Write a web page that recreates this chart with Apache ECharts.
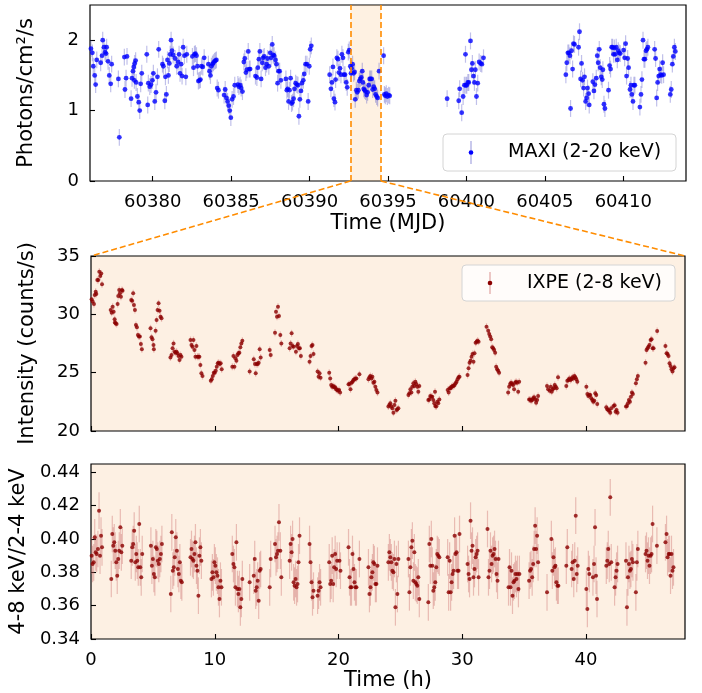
<!DOCTYPE html>
<html>
<head>
<meta charset="utf-8" />
<title>MAXI / IXPE light curves</title>
</head>
<body style="margin:0">
<script src="https://cdn.jsdelivr.net/npm/echarts@6.0.0/dist/echarts.min.js"></script>
<div id="main" style="width:702px;height:693px;"></div>
<script type="text/javascript">
// MAXI 2-20 keV daily-ish points [MJD, photons/cm2/s]
var maxi = [
  [60376.06,1.88],[60376.15,1.82],[60376.21,1.63],[60376.30,1.50],[60376.36,1.37],[60376.43,1.72],
  [60376.68,1.68],[60376.77,1.78],[60376.81,2.00],[60376.89,1.90],[60376.96,1.83],[60377.02,1.81],[60377.06,1.90],[60377.15,1.70],[60377.23,1.50],[60377.32,1.38],[60377.38,1.66],
  [60377.81,1.45],[60377.87,0.62],[60378.19,1.76],[60378.23,1.30],[60378.30,1.46],[60378.36,1.77],
  [60378.62,1.17],[60378.68,1.46],[60378.74,1.56],[60378.79,1.62],[60378.83,1.43],[60378.85,1.67],[60378.91,1.71],[60378.94,1.40],[60379.02,1.20],[60379.11,1.12],[60379.17,1.00],[60379.23,1.38],[60379.30,1.53],
  [60379.62,1.80],[60379.68,1.08],[60379.72,1.39],[60379.81,1.34],[60379.89,1.37],[60379.98,1.43],[60380.04,1.53],[60380.13,1.13],[60380.21,1.26],[60380.30,1.48],[60380.38,1.87],
  [60380.62,1.66],[60380.68,1.63],[60380.77,1.14],[60380.81,1.48],[60380.87,1.23],[60380.94,1.72],[60381.00,1.50],[60381.06,1.67],[60381.11,1.80],[60381.17,2.00],[60381.23,1.85],[60381.30,1.79],[60381.43,1.74],
  [60381.53,1.63],[60381.62,1.69],[60381.68,1.80],[60381.74,1.53],[60381.81,1.66],[60381.87,1.49],[60381.94,1.90],[60382.02,1.78],[60382.11,1.48],[60382.17,1.80],
  [60382.53,1.77],[60382.60,1.61],[60382.66,1.80],[60382.72,1.81],[60382.79,1.78],[60382.85,1.63],[60382.91,1.42],[60382.98,1.43],[60383.04,1.44],[60383.11,1.63],[60383.19,1.62],[60383.28,1.75],
  [60383.55,1.66],[60383.62,1.56],[60383.68,1.50],[60383.74,1.63],[60383.81,1.66],[60383.87,1.68],[60383.94,1.70],[60384.00,1.71],[60384.06,1.72],[60384.11,1.32],[60384.19,1.29],
  [60384.55,1.22],[60384.62,1.30],[60384.70,1.18],[60384.77,1.13],[60384.85,1.07],[60384.91,1.00],[60384.98,0.90],[60385.06,1.16],[60385.15,1.20],[60385.23,1.36],
  [60385.43,1.37],[60385.49,1.34],[60385.57,1.36],[60385.64,1.32],[60385.72,1.27],[60385.81,1.69],[60385.87,1.74],[60385.94,1.54],[60386.00,1.58],[60386.09,1.84],[60386.15,1.59],[60386.21,1.59],
  [60386.55,1.49],[60386.64,1.47],[60386.70,1.61],[60386.77,1.73],[60386.83,1.84],[60386.91,1.45],[60386.98,1.68],[60387.04,1.75],[60387.11,1.77],[60387.19,1.61],[60387.26,1.66],[60387.32,1.74],
  [60387.40,1.63],[60387.49,1.82],[60387.55,1.75],[60387.62,1.94],[60387.68,1.79],[60387.74,1.78],[60387.83,1.72],[60387.89,1.66],[60387.96,1.39],[60388.02,1.56],[60388.09,1.56],[60388.17,1.43],
  [60388.49,1.45],[60388.55,1.29],[60388.60,1.31],[60388.66,1.13],[60388.72,1.29],[60388.79,1.46],[60388.85,1.10],[60388.91,1.12],[60388.98,1.17],[60389.04,1.31],[60389.11,1.39],[60389.19,1.37],
  [60389.26,1.36],[60389.32,0.92],[60389.38,1.16],[60389.45,1.28],[60389.51,1.39],[60389.60,1.43],[60389.66,1.52],[60389.74,1.66],[60389.83,1.66],[60389.91,1.13],[60389.98,1.63],[60390.04,1.87],[60390.11,1.92],
  [60391.28,1.51],[60391.36,1.31],[60391.43,1.40],[60391.49,1.62],[60391.55,1.17],[60391.62,1.12],[60391.66,1.44],[60391.74,1.75],[60391.81,1.73],[60391.87,1.54],[60391.94,1.60],[60392.00,1.51],
  [60392.06,1.80],[60392.13,1.75],[60392.19,1.51],[60392.26,1.51],[60392.34,1.40],[60392.40,1.33],[60392.47,1.83],[60392.53,1.86],[60392.60,1.63],[60392.64,1.53],[60392.68,1.60],[60392.74,1.66],
  [60392.81,1.53],[60392.87,1.55],[60392.91,1.16],[60392.98,1.29],[60393.04,1.26],[60393.11,1.29],[60393.17,1.42],[60393.23,1.45],[60393.30,1.47],[60393.36,1.56],[60393.40,1.40],[60393.45,1.31],
  [60393.51,1.29],[60393.57,1.27],[60393.64,1.22],[60393.70,1.26],[60393.77,1.36],[60393.83,1.45],[60393.89,1.45],[60393.96,1.45],[60394.02,1.30],[60394.09,1.34],[60394.15,1.31],[60394.21,1.23],
  [60394.28,1.20],[60394.34,1.18],[60394.43,1.56],[60394.72,1.78],[60394.77,1.23],[60394.83,1.21],[60394.89,1.24],[60394.96,1.20],[60395.04,1.22],[60395.11,1.21],
  [60398.77,1.17],[60399.51,1.14],[60399.57,1.31],[60399.70,0.97],[60399.79,1.20],[60399.87,1.36],[60399.94,1.80],[60399.96,1.36],[60400.02,1.36],[60400.09,1.40],[60400.15,1.40],[60400.26,1.99],
  [60400.32,1.58],[60400.38,1.67],[60400.45,1.49],[60400.51,1.40],[60400.57,1.58],[60400.64,1.20],[60400.72,1.39],[60400.81,1.69],[60400.91,1.67],[60400.98,1.66],[60401.09,1.75],
  [60406.34,1.51],[60406.40,1.68],[60406.47,1.82],[60406.53,1.82],[60406.60,1.78],[60406.64,1.03],[60406.70,1.85],[60406.77,1.59],[60406.83,1.95],[60406.89,1.94],
  [60407.15,1.90],[60407.21,2.12],[60407.28,1.45],[60407.34,1.67],[60407.40,1.43],[60407.47,1.32],[60407.53,1.48],[60407.60,1.13],[60407.66,1.18],[60407.72,1.32],[60407.79,1.24],[60407.83,1.08],
  [60408.06,1.41],[60408.13,1.28],[60408.19,1.37],[60408.28,1.46],[60408.34,1.78],[60408.40,1.68],[60408.47,1.87],[60408.53,1.61],[60408.60,1.48],[60408.66,1.44],[60408.70,1.58],[60408.77,1.09],[60408.83,1.03],
  [60409.06,1.29],[60409.13,1.64],[60409.19,1.59],[60409.26,1.90],[60409.32,1.90],[60409.38,1.80],[60409.43,1.89],[60409.49,1.80],[60409.55,1.90],[60409.62,1.72],[60409.68,1.85],[60409.74,1.82],[60409.81,1.81],
  [60410.02,1.86],[60410.09,1.75],[60410.15,1.95],[60410.21,1.49],[60410.28,1.74],[60410.34,1.61],[60410.43,1.30],[60410.49,1.36],[60410.55,1.23],[60410.62,1.13],[60410.68,1.36],[60410.74,1.36],
  [60411.06,1.05],[60411.13,1.23],[60411.19,1.44],[60411.26,2.00],[60411.32,1.73],[60411.38,1.73],[60411.45,1.85],[60411.51,1.87],[60411.57,1.90],
  [60412.00,1.87],[60412.06,1.74],[60412.13,1.18],[60412.19,1.40],[60412.26,1.49],[60412.32,1.59],[60412.38,1.51],[60412.45,1.50],[60412.51,1.68],[60412.57,1.51],
  [60413.00,1.23],[60413.06,1.30],[60413.13,1.66],[60413.19,1.77],[60413.26,1.90],[60413.32,1.84]
];

// IXPE 2-8 keV [hours since start, counts/s]
var ixpe = [
  [0.05,31.29],[0.13,31.09],[0.24,30.89],[0.30,31.66],[0.38,31.94],[0.43,31.74],[0.51,32.94],[0.59,32.94],[0.67,33.66],[0.75,33.29],[0.83,33.51],[0.89,32.57],
  [1.59,30.37],[1.67,30.14],[1.75,30.66],[1.83,30.23],[1.91,29.57],[1.93,29.29],[1.99,29.23],[2.07,29.17],[2.15,30.89],[2.20,31.57],[2.28,32.09],[2.34,31.80],[2.42,31.51],[2.50,32.09],[2.55,32.03],
  [3.25,31.23],[3.33,31.17],[3.41,31.80],[3.47,30.80],[3.55,30.37],[3.63,29.09],[3.71,28.89],[3.79,28.23],[3.87,28.09],[3.95,28.09],[4.03,27.46],[4.11,27.00],
  [4.81,28.80],[4.89,28.03],[4.97,27.86],[5.05,27.37],[5.08,27.00],[5.22,28.60],[5.30,29.51],[5.38,30.37],[5.46,30.94],[5.54,30.31],[5.62,29.80],[5.70,29.66],
  [6.42,26.31],[6.51,26.51],[6.59,27.09],[6.67,27.51],[6.75,26.80],[6.83,26.71],[6.91,26.80],[6.99,26.66],[7.07,26.43],[7.15,26.09],[7.23,26.51],[7.31,26.37],
  [8.04,27.80],[8.12,27.37],[8.20,27.23],[8.28,27.80],[8.36,26.94],[8.44,26.37],[8.52,27.29],[8.60,26.37],[8.68,26.37],[8.76,26.37],[8.84,25.66],[8.92,24.94],[9.01,24.71],
  [9.68,24.31],[9.76,24.43],[9.84,24.71],[9.92,25.00],[10.00,25.00],[10.08,25.17],[10.16,25.51],[10.24,25.80],[10.32,25.86],[10.40,25.74],[10.48,25.80],[10.56,25.29],
  [11.42,25.51],[11.51,26.43],[11.59,25.51],[11.67,26.23],[11.75,26.03],[11.83,26.51],[11.91,26.66],[11.99,26.71],[12.07,27.17],[12.15,27.51],[12.23,27.74],
  [12.82,25.09],[13.15,26.14],[13.25,25.74],[13.31,24.94],[13.39,25.74],[13.47,25.74],[13.55,25.86],[13.63,27.00],[13.71,26.31],
  [14.44,26.94],[14.52,26.51],[14.87,28.43],[14.95,30.23],[15.03,29.80],[15.11,30.66],[15.19,29.86],[15.30,28.23],[15.38,27.51],
  [16.05,27.09],[16.13,27.51],[16.21,28.37],[16.29,27.29],[16.37,27.23],[16.56,26.80],[16.64,27.29],[16.72,27.46],[16.80,27.09],[16.88,27.09],[16.96,26.43],
  [17.66,25.94],[17.74,26.43],[17.82,27.29],[17.90,27.37],[17.98,26.60],
  [18.31,25.09],[18.39,24.66],[18.47,24.94],[18.55,24.57],
  [19.25,25.00],[19.33,24.51],[19.41,23.94],[19.49,23.80],[19.57,23.86],[19.65,23.74],[19.73,23.74],[19.81,23.57],[19.89,23.51],[19.97,23.46],[20.05,23.51],[20.13,23.29],
  [20.81,24.00],[20.89,24.03],[20.97,23.57],[21.05,24.14],[21.13,24.23],[21.21,24.37],[21.29,24.43],[21.37,24.51],[21.45,24.51],[21.69,24.86],
  [22.42,24.43],[22.50,24.60],[22.58,24.71],[22.66,24.51],[22.74,24.66],[22.82,24.14],[22.90,24.23],[22.98,23.80],[23.06,23.51],[23.15,23.29],
  [24.03,22.09],[24.11,22.23],[24.19,22.37],[24.27,22.09],[24.35,21.94],[24.44,21.57],[24.52,22.23],[24.60,22.60],[24.68,21.80],[24.76,21.86],[24.84,21.94],
  [25.65,23.09],[25.73,23.23],[25.81,23.57],[25.89,23.29],[25.97,23.80],[26.05,24.09],[26.13,23.86],[26.21,24.23],[26.29,24.03],[26.37,23.80],[26.45,23.37],[26.53,23.86],
  [27.26,22.66],[27.34,22.71],[27.42,23.00],[27.50,22.94],[27.58,22.94],[27.66,22.66],[27.74,22.37],[27.80,23.37],[27.82,22.14],[27.90,22.09],[27.98,22.51],[28.06,22.37],[28.15,22.71],
  [28.82,23.51],[28.90,23.29],[28.98,23.66],[29.06,23.66],[29.14,23.80],[29.22,23.86],[29.30,23.86],[29.38,23.94],[29.46,24.09],[29.54,24.23],[29.62,24.43],[29.70,24.60],[29.78,24.66],
  [30.43,24.80],[30.51,25.37],[30.59,25.86],[30.67,26.03],[30.75,26.37],[30.83,26.60],[30.91,25.94],[30.99,26.66],[31.08,27.57],[31.16,27.66],[31.24,27.74],[31.32,27.66],
  [31.96,28.94],[32.10,28.60],[32.18,28.31],[32.26,28.09],[32.34,27.86],[32.42,27.17],[32.50,27.09],[32.58,26.94],[32.66,26.71],[32.74,25.51],[32.82,25.29],[32.90,25.17],[32.98,25.00],
  [33.71,23.29],[33.79,23.80],[33.87,24.03],[33.95,24.14],[34.03,24.03],[34.11,23.94],[34.19,23.57],[34.27,24.14],[34.35,24.23],[34.44,24.14],[34.52,23.37],[34.60,24.23],
  [35.40,22.71],[35.48,22.71],[35.56,22.60],[35.65,22.66],[35.73,22.80],[35.81,22.89],[35.89,22.71],[35.97,22.43],[36.05,22.66],[36.13,23.00],
  [36.85,23.86],[36.94,23.57],[37.07,23.46],[37.15,23.80],[37.23,23.37],[37.31,23.57],[37.39,23.66],[37.47,23.94],[37.55,23.80],[37.63,23.66],[37.74,24.60],
  [38.41,23.86],[38.49,24.31],[38.58,24.37],[38.66,24.51],[38.74,24.37],[38.82,24.43],[38.90,24.60],[38.98,24.51],[39.06,24.71],[39.14,24.60],[39.22,24.43],[39.30,24.23],
  [40.03,23.80],[40.11,23.17],[40.19,23.00],[40.27,23.09],[40.35,23.09],[40.43,22.80],[40.51,22.66],[40.59,22.51],[40.67,22.60],[40.75,23.23],[40.83,23.09],[40.91,22.31],
  [41.64,22.03],[41.72,21.86],[41.80,21.80],[41.88,21.74],[41.96,21.57],[42.04,21.94],[42.23,22.14],[42.31,22.20],[42.39,21.66],[42.47,21.80],[42.55,21.57],
  [43.23,22.09],[43.31,22.14],[43.39,22.37],[43.47,22.66],[43.55,22.51],[43.63,22.94],[43.71,23.29],[43.79,23.17],[44.03,24.09],[44.11,24.43],[44.19,24.71],
  [44.81,25.86],[44.89,26.94],[44.97,27.09],[45.05,27.23],[45.13,27.37],[45.22,27.80],[45.30,27.86],[45.38,27.09],[45.46,27.09],[45.75,28.57],
  [46.42,27.29],[46.51,26.66],[46.59,26.60],[46.67,26.43],[46.75,25.80],[46.83,25.57],[46.91,25.29],[46.99,25.09],[47.07,25.37],[47.15,25.46]
];

// hardness ratio 4-8 keV / 2-4 keV [hours, ratio]
var ratio = [
  [0.05,0.390],[0.13,0.385],[0.22,0.386],[0.30,0.401],[0.38,0.392],[0.46,0.391],[0.56,0.394],[0.65,0.417],[0.73,0.390],[0.81,0.402],[0.89,0.395],
  [1.64,0.376],[1.72,0.403],[1.80,0.396],[1.88,0.398],[1.96,0.393],[2.04,0.386],[2.12,0.378],[2.20,0.388],[2.28,0.393],[2.37,0.407],[2.45,0.392],[2.53,0.396],
  [3.25,0.387],[3.33,0.395],[3.41,0.397],[3.49,0.405],[3.58,0.386],[3.66,0.391],[3.74,0.387],[3.82,0.383],[3.90,0.409],[3.98,0.383],[4.06,0.377],[4.14,0.391],
  [4.84,0.396],[4.92,0.384],[5.00,0.388],[5.08,0.379],[5.16,0.377],[5.24,0.395],[5.32,0.394],[5.40,0.387],[5.48,0.385],[5.56,0.388],[5.65,0.391],[5.73,0.397],
  [6.45,0.367],[6.53,0.404],[6.61,0.381],[6.69,0.383],[6.77,0.389],[6.85,0.401],[6.94,0.393],[7.02,0.382],[7.10,0.379],[7.18,0.386],[7.26,0.375],[7.34,0.374],
  [8.04,0.389],[8.12,0.394],[8.20,0.388],[8.28,0.387],[8.36,0.391],[8.44,0.398],[8.52,0.384],[8.60,0.381],[8.68,0.366],[8.76,0.390],[8.84,0.395],[8.92,0.387],
  [9.73,0.376],[9.81,0.380],[9.89,0.377],[9.97,0.386],[10.05,0.384],[10.13,0.380],[10.22,0.378],[10.30,0.371],[10.38,0.364],[10.46,0.375],[10.54,0.371],
  [11.42,0.391],[11.51,0.385],[11.59,0.383],[11.67,0.371],[11.75,0.398],[11.83,0.370],[11.91,0.367],[11.99,0.370],[12.07,0.359],[12.15,0.364],[12.23,0.376],
  [12.82,0.374],[13.15,0.378],[13.23,0.388],[13.31,0.369],[13.39,0.371],[13.47,0.375],[13.55,0.363],[13.63,0.381],[13.71,0.382],
  [14.44,0.371],[14.52,0.388],[14.87,0.397],[14.95,0.389],[15.03,0.391],[15.11,0.393],[15.19,0.410],[15.30,0.393],[15.38,0.377],
  [16.05,0.387],[16.13,0.397],[16.21,0.392],[16.29,0.400],[16.37,0.374],[16.45,0.372],[16.53,0.376],[16.61,0.371],[16.69,0.373],[16.77,0.386],[16.85,0.402],
  [17.66,0.397],[17.74,0.386],[17.82,0.374],[17.90,0.365],[17.98,0.369],
  [18.31,0.366],[18.39,0.369],[18.47,0.374],[18.55,0.371],
  [19.25,0.386],[19.33,0.373],[19.41,0.375],[19.49,0.390],[19.57,0.373],[19.65,0.383],[19.73,0.391],[19.81,0.382],[19.89,0.387],[20.08,0.387],[20.16,0.381],
  [20.81,0.395],[20.89,0.377],[20.97,0.371],[21.05,0.371],[21.13,0.391],[21.21,0.382],[21.29,0.374],[21.37,0.371],[21.45,0.371],[21.69,0.388],
  [22.42,0.383],[22.50,0.367],[22.58,0.371],[22.66,0.377],[22.74,0.380],[22.82,0.386],[22.90,0.385],[22.98,0.373],[23.06,0.373],[23.15,0.384],
  [24.03,0.386],[24.11,0.392],[24.19,0.389],[24.27,0.386],[24.35,0.381],[24.44,0.380],[24.52,0.388],[24.60,0.359],[24.68,0.385],[24.76,0.367],[24.84,0.388],
  [25.65,0.388],[25.73,0.368],[25.81,0.383],[25.89,0.395],[25.97,0.399],[26.05,0.375],[26.13,0.392],[26.21,0.374],[26.29,0.373],[26.37,0.372],[26.45,0.377],[26.53,0.364],
  [27.26,0.362],[27.34,0.397],[27.42,0.384],[27.50,0.400],[27.58,0.384],[27.66,0.369],[27.74,0.371],[27.82,0.374],[27.90,0.383],[27.98,0.391],[28.06,0.390],[28.15,0.389],
  [28.82,0.389],[28.90,0.368],[28.98,0.387],[29.06,0.368],[29.14,0.374],[29.22,0.379],[29.30,0.381],[29.38,0.402],[29.46,0.391],[29.54,0.392],[29.62,0.381],[29.70,0.381],[29.78,0.403],
  [30.43,0.385],[30.51,0.379],[30.59,0.376],[30.67,0.411],[30.75,0.393],[30.83,0.396],[30.91,0.377],[30.99,0.382],[31.08,0.389],[31.16,0.391],[31.24,0.393],[31.32,0.377],
  [32.04,0.406],[32.12,0.377],[32.20,0.381],[32.28,0.393],[32.37,0.385],[32.45,0.390],[32.53,0.391],[32.61,0.394],[32.69,0.388],[32.77,0.379],[32.85,0.375],[32.93,0.388],
  [33.74,0.371],[33.82,0.383],[33.90,0.371],[33.98,0.381],[34.06,0.366],[34.14,0.374],[34.22,0.375],[34.30,0.379],[34.38,0.376],[34.46,0.379],[34.54,0.370],[34.62,0.379],
  [35.40,0.375],[35.48,0.381],[35.56,0.382],[35.65,0.377],[35.73,0.385],[35.81,0.394],[35.89,0.408],[35.97,0.394],[36.05,0.402],[36.13,0.386],
  [36.85,0.368],[37.20,0.400],[37.28,0.381],[37.37,0.389],[37.45,0.383],[37.53,0.384],[37.61,0.374],[37.69,0.372],[37.77,0.372],
  [38.41,0.384],[38.49,0.395],[38.84,0.382],[38.92,0.386],[39.01,0.376],[39.09,0.387],[39.17,0.414],[39.25,0.379],[39.33,0.384],
  [40.03,0.370],[40.11,0.358],[40.19,0.382],[40.27,0.379],[40.56,0.377],[40.65,0.385],[40.73,0.407],[40.81,0.378],[40.89,0.364],
  [41.64,0.384],[41.72,0.387],[41.80,0.394],[41.88,0.385],[41.96,0.425],[42.04,0.386],[42.31,0.371],[42.39,0.377],[42.47,0.381],[42.55,0.385],
  [43.23,0.387],[43.31,0.359],[43.39,0.377],[43.47,0.385],[43.55,0.381],[43.63,0.382],[43.71,0.388],[43.79,0.386],[44.03,0.368],[44.11,0.386],[44.19,0.394],
  [44.81,0.391],[44.89,0.393],[44.97,0.387],[45.05,0.390],[45.13,0.384],[45.22,0.390],[45.30,0.391],[45.38,0.409],[45.73,0.396],
  [46.42,0.398],[46.51,0.403],[46.59,0.389],[46.67,0.391],[46.75,0.391],[46.83,0.378],[46.91,0.391],[46.99,0.381],[47.07,0.383]
];

// typical 1-sigma error bars
var maxiErr = 0.12;
var ixpeErr = 0.3;
var ratioErr = 0.011;

// IXPE window marked on the MAXI curve (MJD)
var bandStart = 60392.6;
var bandEnd = 60394.55;

var mjdTicks = [60380, 60385, 60390, 60395, 60400, 60405, 60410];
var rateTicks = [0, 1, 2];
var intensityTicks = [20, 25, 30, 35];
var hourTicks = [0, 10, 20, 30, 40];
var ratioTicks = [0.34, 0.36, 0.38, 0.40, 0.42, 0.44];

var FONT = 'DejaVu Sans';
var ORANGE = '#ff8c00';
var PANEL_BG = '#fdf0e3';

var chart = echarts.init(document.getElementById('main'));

function withErr(pts, e) {
    return pts.map(function (p) { return [p[0], p[1], e]; });
}

// vertical error bar drawn through the axes
function errBar(color, width) {
    return function (params, api) {
        var x = api.value(0), y = api.value(1), e = api.value(2);
        var lo = api.coord([x, y - e]);
        var hi = api.coord([x, y + e]);
        return {
            type: 'line',
            shape: { x1: lo[0], y1: lo[1], x2: hi[0], y2: hi[1] },
            style: { stroke: color, lineWidth: width }
        };
    };
}

function plain(v) { return String(v); }

function xAx(grid, min, max, ticks, showLabel, name, gap) {
    return {
        type: 'value', gridIndex: grid, min: min, max: max,
        name: name, nameLocation: 'middle', nameGap: gap,
        nameTextStyle: { fontFamily: FONT, fontSize: 21, color: '#000' },
        axisLine: { show: false },
        axisTick: { show: true, inside: true, length: 5, customValues: ticks, lineStyle: { color: '#000', width: 1.1 } },
        axisLabel: { show: showLabel, customValues: ticks, fontFamily: FONT, fontSize: 18, color: '#000', margin: 12, formatter: plain },
        splitLine: { show: false }
    };
}

function yAx(grid, min, max, ticks, name, gap, fmt) {
    return {
        type: 'value', gridIndex: grid, min: min, max: max,
        name: name, nameLocation: 'middle', nameGap: gap, nameRotate: 90,
        nameTextStyle: { fontFamily: FONT, fontSize: 21, color: '#000' },
        axisLine: { show: false },
        axisTick: { show: true, inside: true, length: 5, customValues: ticks, lineStyle: { color: '#000', width: 1.1 } },
        axisLabel: { customValues: ticks, fontFamily: FONT, fontSize: 18, color: '#000', margin: 11, formatter: fmt || plain },
        splitLine: { show: false }
    };
}

var option = {
    animation: false,
    backgroundColor: '#fff',
    grid: [
        { left: 90, top: 5, width: 596, height: 176, show: true, backgroundColor: '#fff', borderColor: '#000', borderWidth: 1.2 },
        { left: 91, top: 256, width: 594, height: 175, show: true, backgroundColor: PANEL_BG, borderColor: '#000', borderWidth: 1.2 },
        { left: 91, top: 464, width: 594, height: 175, show: true, backgroundColor: PANEL_BG, borderColor: '#000', borderWidth: 1.2 }
    ],
    xAxis: [
        xAx(0, 60376, 60414, mjdTicks, true, 'Time (MJD)', 32),
        xAx(1, 0, 48, hourTicks, false, '', 0),
        xAx(2, 0, 48, hourTicks, true, 'Time (h)', 29)
    ],
    yAxis: [
        yAx(0, 0, 2.5, rateTicks, 'Photons/cm²/s', 53),
        yAx(1, 20, 35, intensityTicks, 'Intensity (counts/s)', 53),
        yAx(2, 0.34, 0.445, ratioTicks, '4-8 keV/2-4 keV', 53, function (v) { return v.toFixed(2); })
    ],
    series: [
        {
            type: 'custom', name: 'maxiErr', xAxisIndex: 0, yAxisIndex: 0, z: 1, clip: true,
            renderItem: errBar('rgba(90,90,200,0.38)', 1.2),
            encode: { x: 0, y: 1 },
            data: withErr(maxi, maxiErr),
            markArea: {
                silent: true,
                itemStyle: { color: 'rgba(248,160,60,0.15)' },
                data: [[{ xAxis: bandStart }, { xAxis: bandEnd }]]
            },
            markLine: {
                silent: true, symbol: 'none', label: { show: false },
                lineStyle: { color: ORANGE, type: [6, 3], width: 1.6 },
                data: [{ xAxis: bandStart }, { xAxis: bandEnd }]
            }
        },
        {
            type: 'scatter', name: 'MAXI (2-20 keV)', xAxisIndex: 0, yAxisIndex: 0, z: 2,
            symbolSize: 4.8, itemStyle: { color: '#0000ff' },
            data: maxi
        },
        {
            type: 'custom', name: 'ixpeErr', xAxisIndex: 1, yAxisIndex: 1, z: 1, clip: true,
            renderItem: errBar('rgba(200,90,90,0.35)', 1.2),
            encode: { x: 0, y: 1 },
            data: withErr(ixpe, ixpeErr)
        },
        {
            type: 'scatter', name: 'IXPE (2-8 keV)', xAxisIndex: 1, yAxisIndex: 1, z: 2,
            symbolSize: 4, itemStyle: { color: '#8b0000' },
            data: ixpe
        },
        {
            type: 'custom', name: 'ratioErr', xAxisIndex: 2, yAxisIndex: 2, z: 1, clip: true,
            renderItem: errBar('rgba(200,100,100,0.38)', 1.2),
            encode: { x: 0, y: 1 },
            data: withErr(ratio, ratioErr)
        },
        {
            type: 'scatter', name: 'ratio', xAxisIndex: 2, yAxisIndex: 2, z: 2,
            symbolSize: 4, itemStyle: { color: '#8b0000' },
            data: ratio
        }
    ]
};

chart.setOption(option);

// zoom connectors from the MAXI band to the IXPE panel corners
var a = chart.convertToPixel({ xAxisIndex: 0, yAxisIndex: 0 }, [bandStart, 0]);
var b = chart.convertToPixel({ xAxisIndex: 0, yAxisIndex: 0 }, [bandEnd, 0]);
var c = chart.convertToPixel({ xAxisIndex: 1, yAxisIndex: 1 }, [0, 35]);
var d = chart.convertToPixel({ xAxisIndex: 1, yAxisIndex: 1 }, [48, 35]);

function legendBox(x, y, w, h, color, errColor, label) {
    return {
        type: 'group', z: 100,
        children: [
            { type: 'rect', shape: { x: x, y: y, width: w, height: h, r: 4 },
              style: { fill: 'rgba(255,255,255,0.8)', stroke: '#d4d4d4', lineWidth: 1 } },
            { type: 'line', shape: { x1: x + 28, y1: y + 7, x2: x + 28, y2: y + h - 7 },
              style: { stroke: errColor, lineWidth: 1.3 } },
            { type: 'circle', shape: { cx: x + 28, cy: y + h / 2, r: 2.3 }, style: { fill: color } },
            { type: 'text', x: x + 65, y: y + h / 2,
              style: { text: label, fontFamily: FONT, fontSize: 19, fill: '#000', verticalAlign: 'middle' } }
        ]
    };
}

chart.setOption({
    graphic: [
        { type: 'line', z: 50, shape: { x1: a[0], y1: a[1], x2: c[0], y2: c[1] },
          style: { stroke: ORANGE, lineWidth: 1.6, lineDash: [6, 3] } },
        { type: 'line', z: 50, shape: { x1: b[0], y1: b[1], x2: d[0], y2: d[1] },
          style: { stroke: ORANGE, lineWidth: 1.6, lineDash: [6, 3] } },
        legendBox(443, 134, 233, 37, '#0000ff', 'rgba(90,90,200,0.5)', 'MAXI (2-20 keV)'),
        legendBox(462, 265, 213, 36, '#8b0000', 'rgba(200,90,90,0.5)', 'IXPE (2-8 keV)')
    ]
});
</script>
</body>
</html>
